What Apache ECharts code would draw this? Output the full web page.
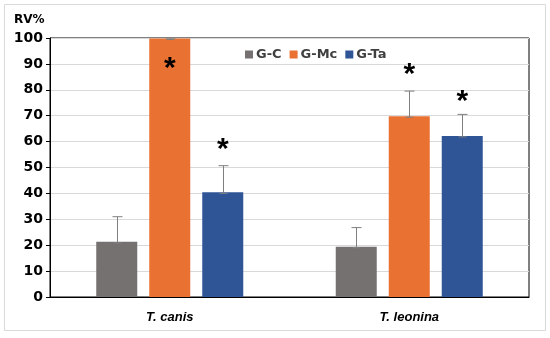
<!DOCTYPE html>
<html>
<head>
<meta charset="utf-8">
<script src="https://cdn.jsdelivr.net/npm/echarts@6/dist/echarts.min.js"></script>
<style>html,body{margin:0;padding:0;background:#fff}#c{width:550px;height:338px}</style>
</head>
<body>
<div id="c"></div>
<script>
var categories = ['T. canis', 'T. leonina'];
var seriesNames = ['G-C', 'G-Mc', 'G-Ta'];
var valuesGC = [21.3, 19.4];
var valuesGMc = [99.8, 69.8];
var valuesGTa = [40.4, 62.2];
var errGC = [9.7, 7.4];
var errGMc = [0.2, 9.7];
var errGTa = [10.3, 8.3];
var sigGMc = [90, 87.6];
var sigGTa = [58.7, 77.3];
var yTicks = [0, 10, 20, 30, 40, 50, 60, 70, 80, 90, 100];

var colors = ['#767171', '#E97132', '#2F5597'];
var BAR_W = 41, BAR_GAP = 12;
var chart = echarts.init(document.getElementById('c'));
var font = '"Liberation Sans", Arial, sans-serif';
var wfont = '"DejaVu Sans", sans-serif';

function offsetOf(k) { return (k - 1) * (BAR_W + BAR_GAP); }

function errSeries(k, vals, errs) {
  return {
    type: 'custom', name: 'err' + k, z: 5, silent: true,
    data: vals.map(function (v, i) { return [i, v, errs[i]]; }),
    renderItem: function (params, api) {
      var i = api.value(0), v = api.value(1), e = api.value(2);
      var p0 = api.coord([i, v]), p1 = api.coord([i, v + e]);
      var x = Math.round(p0[0] + offsetOf(k)) + 0.5;
      var st = { stroke: '#7f7f7f', lineWidth: 1 };
      return { type: 'group', children: [
        { type: 'line', shape: { x1: x, y1: p0[1] + 1, x2: x, y2: p1[1] }, style: st },
        { type: 'line', shape: { x1: x - 5, y1: p1[1], x2: x + 5, y2: p1[1] }, style: st },
        { type: 'line', shape: { x1: x - 4, y1: p0[1] + 1, x2: x + 4, y2: p0[1] + 1 }, style: st }
      ]};
    }
  };
}

function sigSeries(k, vals) {
  return {
    type: 'custom', name: 'sig' + k, z: 6, silent: true,
    data: vals.map(function (v, i) { return [i, v]; }),
    renderItem: function (params, api) {
      var p = api.coord([api.value(0), api.value(1)]);
      return { type: 'text', x: p[0] + offsetOf(k), y: p[1] + 5,
        style: { text: '*', fill: '#000', font: 'bold 30px ' + font, align: 'center', verticalAlign: 'middle' } };
    }
  };
}

var valueSets = [valuesGC, valuesGMc, valuesGTa];
var series = seriesNames.map(function (n, k) {
  return { type: 'bar', name: n, data: valueSets[k], barWidth: BAR_W, barGap: (BAR_GAP / BAR_W * 100) + '%',
    itemStyle: { color: colors[k] } };
});
series.push(errSeries(0, valuesGC, errGC), errSeries(1, valuesGMc, errGMc), errSeries(2, valuesGTa, errGTa));
series.push(sigSeries(1, sigGMc), sigSeries(2, sigGTa));

chart.setOption({
  animation: false,
  color: colors,
  graphic: [{ type: 'rect', shape: { x: 4.5, y: 4.5, width: 541, height: 326 }, style: { fill: 'none', stroke: '#d9d9d9', lineWidth: 1 } }],
  title: { text: 'RV%', left: 9, top: 9, textStyle: { fontFamily: wfont, fontWeight: 'bold', fontSize: 12, color: '#000' } },
  legend: { data: seriesNames, left: 240, top: 43, itemWidth: 8, itemHeight: 8, itemGap: 8, icon: 'rect',
    textStyle: { fontFamily: wfont, fontWeight: 'bold', fontSize: 13, color: '#404040', padding: [0, 0, 0, -2] } },
  grid: { left: 50, right: 21, top: 38, bottom: 41, show: true, borderColor: '#000', borderWidth: 1 },
  xAxis: { type: 'category', data: categories,
    axisLine: { lineStyle: { color: '#000', width: 1 } },
    axisTick: { alignWithLabel: true, length: 4, lineStyle: { color: '#000' } },
    axisLabel: { fontFamily: font, fontWeight: 'bold', fontStyle: 'italic', fontSize: 13, color: '#000', margin: 14 } },
  yAxis: { type: 'value', min: 0, max: 100, interval: 10,
    axisLine: { show: true, lineStyle: { color: '#000', width: 1 } },
    axisTick: { show: true, length: 4, lineStyle: { color: '#000' } },
    splitLine: { lineStyle: { color: '#d9d9d9', width: 1 } },
    axisLabel: { fontFamily: wfont, fontWeight: 'bold', fontSize: 14, color: '#000', margin: 7,
      formatter: function (v) { return yTicks.indexOf(v) >= 0 ? String(v) : ''; } } },
  series: series
});
</script>
</body>
</html>
